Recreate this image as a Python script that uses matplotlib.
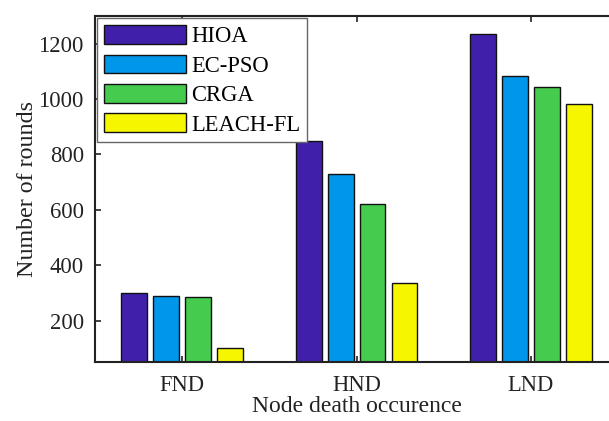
import numpy as np
import matplotlib.pyplot as plt

plt.rcParams['font.family'] = ['Liberation Serif', 'DejaVu Serif']

# data
groups = ['FND', 'HND', 'LND']
methods = ['HIOA', 'EC-PSO', 'CRGA', 'LEACH-FL']
values = {
    'HIOA':     [300, 850, 1235],
    'EC-PSO':   [290, 730, 1083],
    'CRGA':     [285, 620, 1043],
    'LEACH-FL': [100, 335, 981],
}
colors = ['#401fab', '#0096e9', '#45cc4f', '#f6f600']

fig = plt.figure(figsize=(6.09, 4.21), dpi=100)
ax = fig.add_axes([0.156, 0.140, 0.859, 0.822])

x = np.arange(1, len(groups) + 1)
step = 0.183
width = 0.148
for i, m in enumerate(methods):
    off = (i - 1.5) * step
    ax.bar(x + off, values[m], width, color=colors[i], edgecolor='#111111',
           linewidth=1.0, label=m, zorder=2)

ax.set_xlim(0.5, 3.5)
ax.set_ylim(50, 1300)
ax.set_xticks(x)
ax.set_xticklabels(groups)
ax.set_yticks([200, 400, 600, 800, 1000, 1200])
ax.tick_params(direction='in', length=4, width=1.2, labelsize=16.3,
               top=True, right=True, colors='#222222', labelcolor='#222222')
ax.tick_params(axis='x', pad=9)
ax.tick_params(axis='y', pad=8)
for s in ax.spines.values():
    s.set_linewidth(1.5)
    s.set_color('#222222')

ax.set_xlabel('Node death occurence', fontsize=17, color='#222222', labelpad=0)
ax.set_ylabel('Number of rounds', fontsize=17.3, color='#222222', labelpad=0.5)

leg = ax.legend(loc='upper left', fontsize=16.3, fancybox=False,
                edgecolor='#666666', framealpha=1, handlelength=3.6,
                handleheight=0.9, handletextpad=0.25, labelspacing=0.32,
                borderpad=0.3, borderaxespad=0.1)
leg.get_frame().set_linewidth(1.0)

plt.savefig('out.png', dpi=100)
